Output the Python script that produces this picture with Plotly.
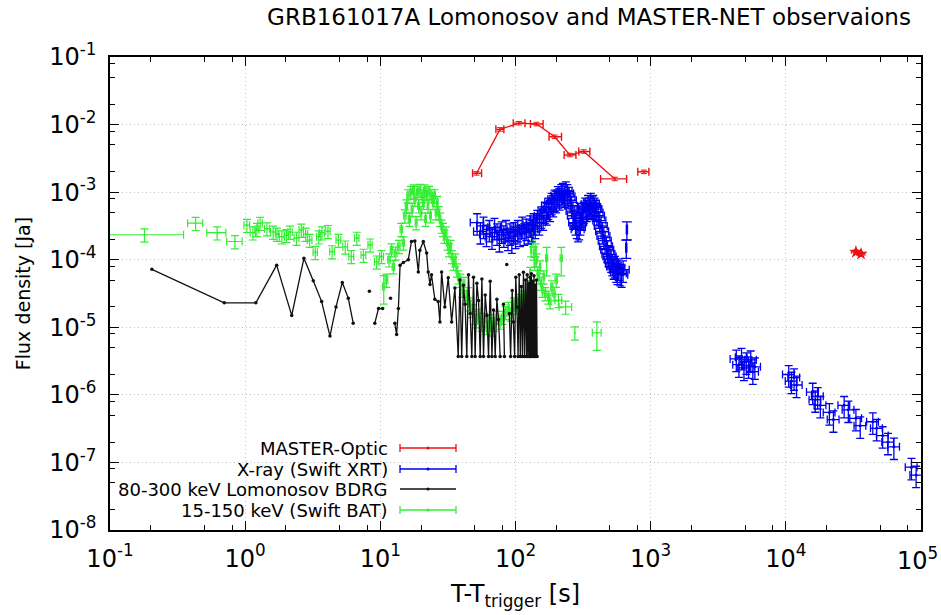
import plotly.graph_objects as go

# ---------------- data ----------------
# MASTER optical (connected points)
master_t = [51.5, 76.8, 106, 143, 195, 252, 320, 543]
master_f = [1.9e-3, 8.5e-3, 1.05e-2, 1.02e-2, 6.6e-3, 3.55e-3, 4.0e-3, 1.57e-3]
master_tlo = [48.1, 71.6, 96.2, 129, 177, 229, 294, 426]
master_thi = [56.1, 82.0, 117.5, 160, 219, 280, 355, 664]
# MASTER isolated points
master_iso_t = [891]
master_iso_f = [2.0e-3]
master_iso_tlo = [803]
master_iso_thi = [970]
master_late_t = [33000, 36000]
master_late_f = [1.30e-4, 1.22e-4]
master_late_dt = [2500, 2500]

# Swift XRT, early (WT) light curve
xrt_wt_t = [52, 55, 58, 61, 64, 67, 70, 73, 76, 79, 82, 85, 88, 91, 94, 97, 100,
            104, 108, 112, 116, 120, 124, 128, 132, 136, 140, 145, 150, 155, 160,
            165, 170, 175, 180, 185, 190, 195, 200, 206, 212, 218, 224, 230, 236,
            242, 248, 254, 260, 266, 272, 278, 284, 290, 296, 302, 308, 314, 320,
            328, 336, 344, 352, 360, 368, 376, 384, 392, 400, 410, 420, 430, 440,
            450, 460, 470, 480, 490, 500, 510, 520, 532, 544, 556, 568, 580, 595,
            610, 625]
xrt_wt_f = [3.55e-4, 2.63e-4, 3.16e-4, 2.40e-4, 2.82e-4, 2.19e-4, 3.02e-4, 2.51e-4,
            2.00e-4, 2.69e-4, 2.34e-4, 2.82e-4, 2.09e-4, 2.51e-4, 1.91e-4, 2.63e-4,
            2.24e-4, 2.82e-4, 2.40e-4, 3.16e-4, 2.51e-4, 2.95e-4, 2.63e-4, 3.31e-4,
            2.82e-4, 3.55e-4, 3.16e-4, 3.98e-4, 3.55e-4, 4.47e-4, 4.17e-4, 5.25e-4,
            5.01e-4, 6.03e-4, 5.62e-4, 7.08e-4, 6.61e-4, 7.94e-4, 7.59e-4, 8.91e-4,
            8.32e-4, 9.55e-4, 1.00e-3, 9.10e-4, 1.05e-3, 9.55e-4, 8.70e-4, 7.59e-4,
            6.31e-4, 5.25e-4, 4.47e-4, 3.55e-4, 3.16e-4, 2.82e-4, 3.02e-4, 3.55e-4,
            4.17e-4, 5.01e-4, 5.25e-4, 6.03e-4, 5.62e-4, 6.61e-4, 6.03e-4, 7.08e-4,
            6.31e-4, 6.61e-4, 6.03e-4, 5.62e-4, 5.01e-4, 4.47e-4, 3.80e-4, 3.16e-4,
            2.63e-4, 2.24e-4, 1.91e-4, 1.58e-4, 1.41e-4, 1.20e-4, 1.12e-4, 1.00e-4,
            8.9e-5, 7.9e-5, 8.3e-5, 7.1e-5, 6.6e-5, 7.6e-5, 6.3e-5, 6.0e-5, 7.1e-5]
xrt_iso_t = [660, 667]
xrt_iso_f = [1.5e-4, 2.8e-4]

# Swift XRT, late (PC) light curve
xrt_pc_t = [4300, 4500, 4700, 4900, 5100, 5300, 5500, 5700, 5900,
            10500, 11000, 11500, 12000, 15800, 16500, 17200, 18000,
            21000, 22500, 27000, 29000, 33000, 35500, 44000, 47000,
            52000, 57000, 63000, 85000, 92000]
xrt_pc_f = [3.4e-6, 2.8e-6, 3.6e-6, 2.5e-6, 3.1e-6, 2.7e-6, 3.3e-6, 2.2e-6, 2.6e-6,
            2.0e-6, 1.6e-6, 1.8e-6, 1.4e-6, 1.1e-6, 8.5e-7, 9.5e-7, 7.0e-7,
            5.5e-7, 4.3e-7, 7.0e-7, 6.0e-7, 4.5e-7, 3.5e-7, 4.0e-7, 3.2e-7,
            2.5e-7, 2.0e-7, 1.7e-7, 8.5e-8, 6.5e-8]

# Lomonosov BDRG 80-300 keV (None = non-positive value, gap on log axis)
bdrg_t = [0.204, 0.70, 1.2, 1.71, 2.21, 2.72, 3.19, 3.68, 4.24, 4.7, 5.23, 5.79, 6.3,
          7.3, 8.3, 8.7, 9.1, 9.7, 10.4, 11.2, 11.9, 12.4, 12.8, 13.2, 13.6, 14.0,
          14.8, 16.1, 17.0, 18.0, 19.1, 19.6, 20.8, 22.0, 22.6, 23.3, 23.9, 25.3,
          26.8, 27.6, 28.4, 30.0, 31.8, 33.7, 35.6, 37.7, 38.8, 40.0, 41.2, 42.4,
          43.6, 44.9, 46.2, 47.5, 48.9, 50.3, 51.8, 53.3, 54.8, 56.4, 58.0, 59.7,
          61.4, 63.2, 65.0, 66.9, 68.8, 70.8, 72.8, 74.9, 77.0, 79.2, 81.5, 82.8,
          84.0, 86.2, 88.0, 90.0, 92.0, 94.5, 96.5, 98.5, 100.5, 102.5, 104.5,
          106.5, 108.5, 110.5, 112.5, 114.5, 116.5, 118.5, 120.5, 122.0, 123.5,
          125.0, 126.5, 128.0, 129.5, 131.0, 132.5, 134.0, 135.5, 137.0, 138.5,
          140.0, 141.5, 143.0, 144.5]
bdrg_f = [7.2e-5, 2.3e-5, 2.3e-5, 8.3e-5, 1.5e-5, 1.05e-4, 4.9e-5, 2.4e-5, 7.4e-6,
          2.0e-5, 4.6e-5, 2.7e-5, 1.15e-5,
          None, 3.4e-5, None, 1.15e-5, 1.9e-5, 1.9e-5, None, 2.7e-5, None,
          1.15e-5, 7.8e-6, 1.9e-5, 8.3e-5, 9.1e-5, 1.0e-4, 1.86e-4, 1.9e-4,
          6.6e-5, 1.38e-4, 1.86e-4, 1.26e-4, 6.6e-5, 4.3e-5, 6.0e-5, 2.6e-5,
          2.4e-5, 1.2e-5, 6.6e-5, 2.0e-5, 5.4e-5, 1.2e-5, 3.8e-5, 3.7e-6,
          5.0e-5, 3.7e-6, 4.2e-5, 2.2e-5, 3.7e-6, 6.0e-5, 1.6e-5, 3.7e-6,
          5.5e-5, 3.7e-6, 4.5e-5, 2.5e-5, 3.7e-6, 5.2e-5, 3.7e-6, 3.0e-5,
          1.5e-5, 3.7e-6, 4.8e-5, 3.7e-6, 1.8e-5, 3.7e-6, 2.6e-5, 1.3e-5,
          3.7e-6, None, 2.2e-5, 3.7e-6, None, 8.5e-5, None, 1.6e-5, 3.7e-6,
          3.5e-5, 1.2e-5, 3.7e-6, 5.5e-5, 2.0e-5, 3.7e-6, 6.0e-5, 3.7e-6,
          4.0e-5, 3.7e-6, 6.5e-5, 3.7e-6, 5.0e-5, 3.7e-6, 6.0e-5, 3.7e-6,
          4.5e-5, 3.7e-6, 5.5e-5, 3.7e-6, 6.2e-5, 3.7e-6, 4.8e-5, 3.7e-6,
          5.8e-5, 3.7e-6, 4.2e-5, 3.7e-6, 5.0e-5, 3.7e-6]

# Swift BAT 15-150 keV
bat_t = [0.18, 0.43, 0.62, 0.84, 1.03, 1.14, 1.22, 1.29, 1.45, 1.61, 1.72, 1.87,
         2.02, 2.15, 2.4, 2.6, 2.8, 3.0, 3.3, 3.5, 3.7, 4.1, 4.4, 4.9, 5.5, 6.1,
         6.7, 7.5, 8.4, 9.4, 10.2, 11.1, 11.6, 12.1, 12.5, 13.0, 13.7, 14.3,
         14.8, 15.2, 15.6, 16.0, 16.4, 16.8, 17.2, 17.6, 18.0, 18.4, 18.8, 19.2,
         19.6, 20.0, 20.4, 20.8, 21.2, 21.6, 22.0, 22.5, 23.0, 23.5, 24.0, 24.6,
         25.2, 25.8, 26.4, 27.0, 27.7, 28.4, 29.1, 29.8, 30.6, 31.4, 32.2, 33.0,
         33.9, 34.8, 35.8, 36.8, 37.8, 39.0, 40.2, 41.5, 43.0, 44.5, 46.0, 47.6,
         49.3, 51.2, 53.5, 56.0, 58.5, 61.0, 64.0, 67.0, 70.0, 73.5, 77.0, 80.5,
         84.5, 88.5, 92.5, 97.0, 101.5, 106.0, 111.0, 116.0, 121.0, 125.5, 128.5,
         130.5, 132.5, 134.5, 136.5, 138.5, 141.0, 143.5, 146.0, 149.0, 152.0,
         155.0, 158.5, 162.0, 166.0, 175.0, 180.0, 186.0, 193.0, 200.0, 208.0,
         235.0, 275.0]
bat_f = [2.34e-4, 3.47e-4, 2.51e-4, 1.86e-4, 3.24e-4, 2.51e-4, 2.82e-4, 3.47e-4,
         2.88e-4, 2.57e-4, 2.40e-4, 2.19e-4, 2.29e-4, 2.57e-4, 2.09e-4, 2.75e-4,
         2.40e-4, 1.95e-4, 1.29e-4, 2.19e-4, 2.51e-4, 2.63e-4, 1.32e-4, 1.95e-4,
         1.55e-4, 1.12e-4, 2.09e-4, 1.17e-4, 1.66e-4, 9.3e-5, 1.12e-4, 5.0e-5,
         1.0e-4, 1.41e-4, 7.9e-5, 1.26e-4, 1.58e-4, 2.82e-4, 1.78e-4, 4.47e-4,
         6.31e-4, 8.9e-4, 3.98e-4, 1.0e-3, 5.6e-4, 1.05e-3, 7.9e-4, 3.55e-4,
         1.0e-3, 6.3e-4, 1.07e-3, 5.0e-4, 8.9e-4, 7.1e-4, 1.05e-3, 4.0e-4,
         9.5e-4, 6.3e-4, 1.0e-3, 4.5e-4, 8.9e-4, 7.1e-4, 8.9e-4, 5.0e-4, 7.1e-4,
         5.0e-4, 4.0e-4, 3.16e-4, 2.82e-4, 2.24e-4, 2.51e-4, 1.78e-4, 1.41e-4,
         1.58e-4, 1.12e-4, 8.9e-5, 1.0e-4, 7.1e-5, 5.6e-5, 5.0e-5, 3.55e-5,
         4.5e-5, 2.82e-5, 3.16e-5, 2.24e-5, 1.78e-5, 1.41e-5, 1.26e-5, 1.51e-5,
         1.12e-5, 1.32e-5, 1.0e-5, 1.26e-5, 9.5e-6, 1.12e-5, 1.41e-5, 1.2e-5,
         1.41e-5, 1.66e-5, 1.91e-5, 1.58e-5, 2.24e-5, 2.0e-5, 2.51e-5, 2.4e-5,
         2.82e-5, 2.63e-5, 3.55e-5, 6.3e-5, 1.41e-4, 2.51e-4, 2.0e-4, 1.26e-4,
         8.9e-5, 1.41e-4, 1.0e-4, 6.3e-5, 5.6e-5, 7.9e-5, 4.5e-5, 3.55e-5,
         5.6e-5, 3.16e-5, 2.82e-5, 2.4e-5, 4.0e-5, 3.16e-5, 5.0e-5, 2.51e-5,
         2.0e-5, 8.3e-6]
bat_dt = [0.17, 0.055, 0.10, 0.11, 0.05, 0.05, 0.04, 0.05, 0.06, 0.07, 0.05, 0.08,
          0.07, 0.08, 0.10, 0.10, 0.10, 0.12, 0.12, 0.12, 0.15, 0.15, 0.18, 0.2,
          0.22, 0.25, 0.25, 0.3, 0.3, 0.35, 0.35, 0.25, 0.25, 0.25, 0.25, 0.3,
          0.3, 0.3, 0.3, 0.3, 0.3, 0.3, 0.3, 0.3, 0.3, 0.3, 0.3, 0.3, 0.3, 0.3,
          0.3, 0.3, 0.3, 0.3, 0.3, 0.3, 0.3, 0.3, 0.35, 0.35, 0.35, 0.35, 0.35,
          0.35, 0.35, 0.4, 0.4, 0.4, 0.4, 0.4, 0.45, 0.45, 0.45, 0.5, 0.5, 0.5,
          0.55, 0.55, 0.6, 0.6, 0.7, 0.7, 0.8, 0.8, 0.9, 0.9, 1.0, 1.2, 1.3, 1.3,
          1.3, 1.5, 1.5, 1.5, 1.8, 1.8, 1.8, 2.0, 2.0, 2.0, 2.2, 2.2, 2.3, 2.5,
          2.5, 2.5, 2.2, 1.5, 1.0, 1.0, 1.0, 1.0, 1.0, 1.2, 1.2, 1.3, 1.5, 1.5,
          1.5, 1.7, 1.8, 2.0, 2.5, 2.5, 3.0, 3.5, 3.5, 4.0, 12.0, 25.0]
# BAT points with large uncertainties
bat_big_t = [10.6, 170.0, 218.0, 400.0]
bat_big_f = [4.0e-5, 1.05e-4, 1.05e-4, 8.3e-6]
bat_big_dt = [0.2, 3.0, 4.0, 30.0]

legend_labels = ["MASTER-Optic", "X-ray (Swift XRT)",
                 "80-300 keV Lomonosov BDRG", "15-150 keV (Swift BAT)"]

RED, BLUE, BLACK, GREEN = "#ee1010", "#0000ee", "#111111", "#33ee33"
FONT = "DejaVu Sans"

fig = go.Figure()

# BAT
fig.add_trace(go.Scatter(
    x=bat_t, y=bat_f, mode="markers",
    marker=dict(color=GREEN, size=2),
    error_x=dict(type="data", array=bat_dt, color=GREEN, thickness=1.2, width=4),
    error_y=dict(type="percent", value=22, color=GREEN, thickness=1.2, width=4),
    showlegend=False))
fig.add_trace(go.Scatter(
    x=bat_big_t, y=bat_big_f, mode="markers",
    marker=dict(color=GREEN, size=2),
    error_x=dict(type="data", array=bat_big_dt, color=GREEN, thickness=1.2, width=4),
    error_y=dict(type="percent", value=45, color=GREEN, thickness=1.2, width=4),
    showlegend=False))

# BDRG
fig.add_trace(go.Scatter(
    x=bdrg_t, y=bdrg_f, mode="lines+markers",
    line=dict(color=BLACK, width=1.3),
    marker=dict(color=BLACK, size=3.5),
    connectgaps=False, showlegend=False))

# XRT
fig.add_trace(go.Scatter(
    x=xrt_wt_t, y=xrt_wt_f, mode="markers",
    marker=dict(color=BLUE, size=3),
    error_x=dict(type="percent", value=11, color=BLUE, thickness=1.3, width=4),
    error_y=dict(type="percent", value=35, color=BLUE, thickness=1.3, width=4),
    showlegend=False))
fig.add_trace(go.Scatter(
    x=xrt_iso_t, y=xrt_iso_f, mode="markers",
    marker=dict(color=BLUE, size=2),
    error_x=dict(type="percent", value=1, color=BLUE, thickness=1.3, width=5),
    error_y=dict(type="percent", value=30, color=BLUE, thickness=1.3, width=5),
    showlegend=False))
fig.add_trace(go.Scatter(
    x=xrt_pc_t, y=xrt_pc_f, mode="markers",
    marker=dict(color=BLUE, size=3),
    error_x=dict(type="percent", value=10, color=BLUE, thickness=1.3, width=4),
    error_y=dict(type="percent", value=35, color=BLUE, thickness=1.3, width=4),
    showlegend=False))

# MASTER
fig.add_trace(go.Scatter(
    x=master_t, y=master_f, mode="lines+markers",
    line=dict(color=RED, width=1.3), marker=dict(color=RED, size=2),
    error_x=dict(type="data", symmetric=False,
                 array=[h - t for h, t in zip(master_thi, master_t)],
                 arrayminus=[t - l for t, l in zip(master_t, master_tlo)],
                 color=RED, thickness=1.4, width=4),
    error_y=dict(type="percent", value=6, color=RED, thickness=1, width=3),
    showlegend=False))
fig.add_trace(go.Scatter(
    x=master_iso_t, y=master_iso_f, mode="markers",
    marker=dict(color=RED, size=2),
    error_x=dict(type="data", symmetric=False,
                 array=[h - t for h, t in zip(master_iso_thi, master_iso_t)],
                 arrayminus=[t - l for t, l in zip(master_iso_t, master_iso_tlo)],
                 color=RED, thickness=1.4, width=4),
    error_y=dict(type="percent", value=6, color=RED, thickness=1, width=3),
    showlegend=False))
fig.add_trace(go.Scatter(
    x=master_late_t, y=master_late_f, mode="markers",
    marker=dict(color=RED, size=10, symbol="star"),
    error_x=dict(type="data", array=master_late_dt, color=RED, thickness=1, width=2),
    error_y=dict(type="percent", value=8, color=RED, thickness=1, width=2),
    showlegend=False))

# ---------------- custom gnuplot-like key ----------------
L, R, T, B = 110, 20, 57, 85
W, H = 941, 615
pw, ph = W - L - R, H - T - B


def px2paper(x, y):
    return (x - L) / pw, (H - B - y) / ph


key_rows = [448, 469, 489, 510]
key_colors = [RED, BLUE, BLACK, GREEN]
key_caps = [True, True, False, True]
shapes = []
annotations = []
for lab, yy, col, cap in zip(legend_labels, key_rows, key_colors, key_caps):
    tx, ty = px2paper(390, yy)
    annotations.append(dict(text=lab, x=tx, y=ty, xref="paper", yref="paper",
                            xanchor="right", yanchor="middle", showarrow=False,
                            font=dict(family=FONT, size=18, color="black")))
    x0, y0 = px2paper(400, yy)
    x1, _ = px2paper(456, yy)
    shapes.append(dict(type="line", xref="paper", yref="paper", x0=x0, x1=x1,
                       y0=y0, y1=y0, line=dict(color=col, width=1.3)))
    if cap:
        for xc in (400, 456):
            cx, cy0 = px2paper(xc, yy - 4)
            _, cy1 = px2paper(xc, yy + 4)
            shapes.append(dict(type="line", xref="paper", yref="paper", x0=cx,
                               x1=cx, y0=cy0, y1=cy1, line=dict(color=col, width=1.3)))
    dx0, dy0 = px2paper(426.5, yy - 1.5)
    dx1, dy1 = px2paper(429.5, yy + 1.5)
    shapes.append(dict(type="circle", xref="paper", yref="paper", x0=dx0, x1=dx1,
                       y0=dy1, y1=dy0, fillcolor=col, line=dict(color=col, width=0)))

# ---------------- axes ----------------
TICK_SIZE = 24
x_major = [1e-1, 1e0, 1e1, 1e2, 1e3, 1e4, 1e5]
x_text = ["10<sup>-1</sup>", "10<sup>0</sup>", "10<sup>1</sup>", "10<sup>2</sup>",
          "10<sup>3</sup>", "10<sup>4</sup>", ""]
y_major = [1e-8, 1e-7, 1e-6, 1e-5, 1e-4, 1e-3, 1e-2, 1e-1]
y_text = ["10<sup>-8</sup>", "10<sup>-7</sup>", "10<sup>-6</sup>", "10<sup>-5</sup>",
          "10<sup>-4</sup>", "10<sup>-3</sup>", "10<sup>-2</sup>", "10<sup>-1</sup>"]
minor_mult = [2, 5, 8]
x_minor = [m * d for d in x_major[:-1] for m in minor_mult]
y_minor = [m * d for d in y_major[:-1] for m in minor_mult]

# last x tick label kept inside the canvas (gnuplot shifts it at the edge)
annotations.append(dict(text="10<sup>5</sup>", x=(W - 1 - L) / pw, y=0,
                        xref="paper", yref="paper", xanchor="right", yanchor="top",
                        yshift=-11, showarrow=False,
                        font=dict(family=FONT, size=TICK_SIZE, color="black")))

axis_common = dict(
    type="log", showline=True, linecolor="black", linewidth=1.5, mirror="ticks",
    ticks="inside", ticklen=9, tickwidth=1.2, tickcolor="black",
    showgrid=True, gridcolor="#c4c4c4", gridwidth=1, griddash="1px,3px",
    zeroline=False, tickfont=dict(family=FONT, size=TICK_SIZE, color="black"),
    tickmode="array",
)

fig.update_xaxes(**axis_common, range=[-1, 5], tickvals=x_major, ticktext=x_text,
                 minor=dict(tickmode="array", tickvals=x_minor, ticks="inside",
                            ticklen=5, tickwidth=1.2, tickcolor="black",
                            showgrid=False),
                 ticklabelstandoff=6,
                 title=dict(text="T-T<sub>trigger</sub> [s]",
                            font=dict(family=FONT, size=24, color="black"),
                            standoff=14))
fig.update_yaxes(**axis_common, range=[-8, -1], tickvals=y_major, ticktext=y_text,
                 minor=dict(tickmode="array", tickvals=y_minor, ticks="inside",
                            ticklen=5, tickwidth=1.2, tickcolor="black",
                            showgrid=False),
                 ticklabelstandoff=7,
                 title=dict(text="Flux density [Ja]",
                            font=dict(family=FONT, size=19, color="black"),
                            standoff=14))

fig.update_layout(
    width=W, height=H,
    margin=dict(l=L, r=R, t=T, b=B, autoexpand=False),
    paper_bgcolor="white", plot_bgcolor="white",
    title=dict(text="GRB161017A Lomonosov and MASTER-NET observaions",
               x=589 / W, xanchor="center", y=1 - 17 / H, yanchor="middle",
               font=dict(family=FONT, size=23, color="black")),
    shapes=shapes, annotations=annotations, showlegend=False,
)

fig.write_html("out.html",
               config={"displayModeBar": False},
               post_script="document.body.style.margin='0px';"
                           "document.body.style.padding='0px';")
